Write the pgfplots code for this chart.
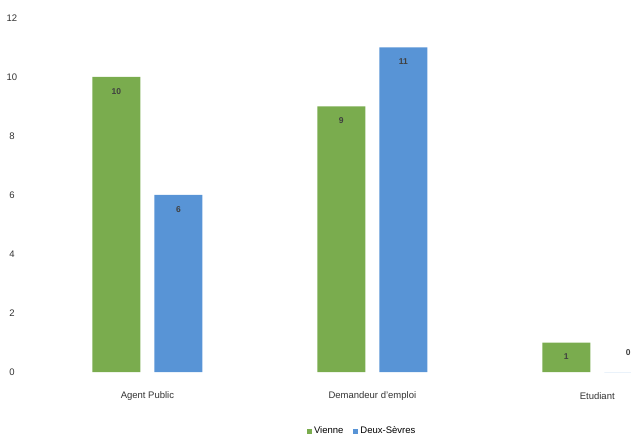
\documentclass[border=0pt]{standalone}
\usepackage{pgfplots}
\pgfplotsset{compat=1.18}
\usepackage{fontspec}
\setmainfont{Liberation Sans}

\definecolor{vienne}{RGB}{122,172,78}
\definecolor{deuxsevres}{RGB}{88,148,214}
\definecolor{labelgray}{RGB}{50,50,50}

\begin{document}
\begin{tikzpicture}
\useasboundingbox (-35pt,-64pt) rectangle (596pt,372pt);
\begin{axis}[
  at={(0pt,0pt)}, anchor=south west,
  scale only axis,
  width=596pt, height=354pt,
  ybar=14pt, bar width=48pt,
  xmin=-0.5, xmax=2.15,
  ymin=0, ymax=12,
  ytick={0,2,4,6,8,10,12},
  xtick=data,
  xticklabels={Agent Public, Demandeur d'emploi, Etudiant},
  axis line style={draw=none},
  major tick length=0pt,
  clip=false,
  font=\fontsize{9.5}{11}\selectfont\color{labelgray},
  yticklabel style={anchor=center, xshift=-23pt},
  xticklabel style={anchor=center, yshift=-24pt},
  /pgf/number format/assume math mode=true,
  nodes near coords,
  visualization depends on={y \as \rawy},
  every node near coord/.append style={
    font=\bfseries\fontsize{8.5}{10}\selectfont, text=black!75,
    anchor=north, yshift={ifthenelse(\rawy==0,26,-8)}},
  legend style={draw=none, at={(0.549,-0.1667)}, anchor=center,
    legend columns=2, font=\fontsize{9.5}{11}\selectfont,
    /tikz/every even column/.append style={column sep=8pt}},
  legend image code/.code={\fill[#1] (0pt,-2.5pt) rectangle (5pt,2.5pt);},
]
\addplot[fill=vienne, draw=none] coordinates {(0,10) (1,9) (2,1)};
\addplot[fill=deuxsevres, draw=none] coordinates {(0,6) (1,11) (2,0)};
\legend{Vienne, Deux-Sèvres}
\end{axis}
\end{tikzpicture}
\end{document}
